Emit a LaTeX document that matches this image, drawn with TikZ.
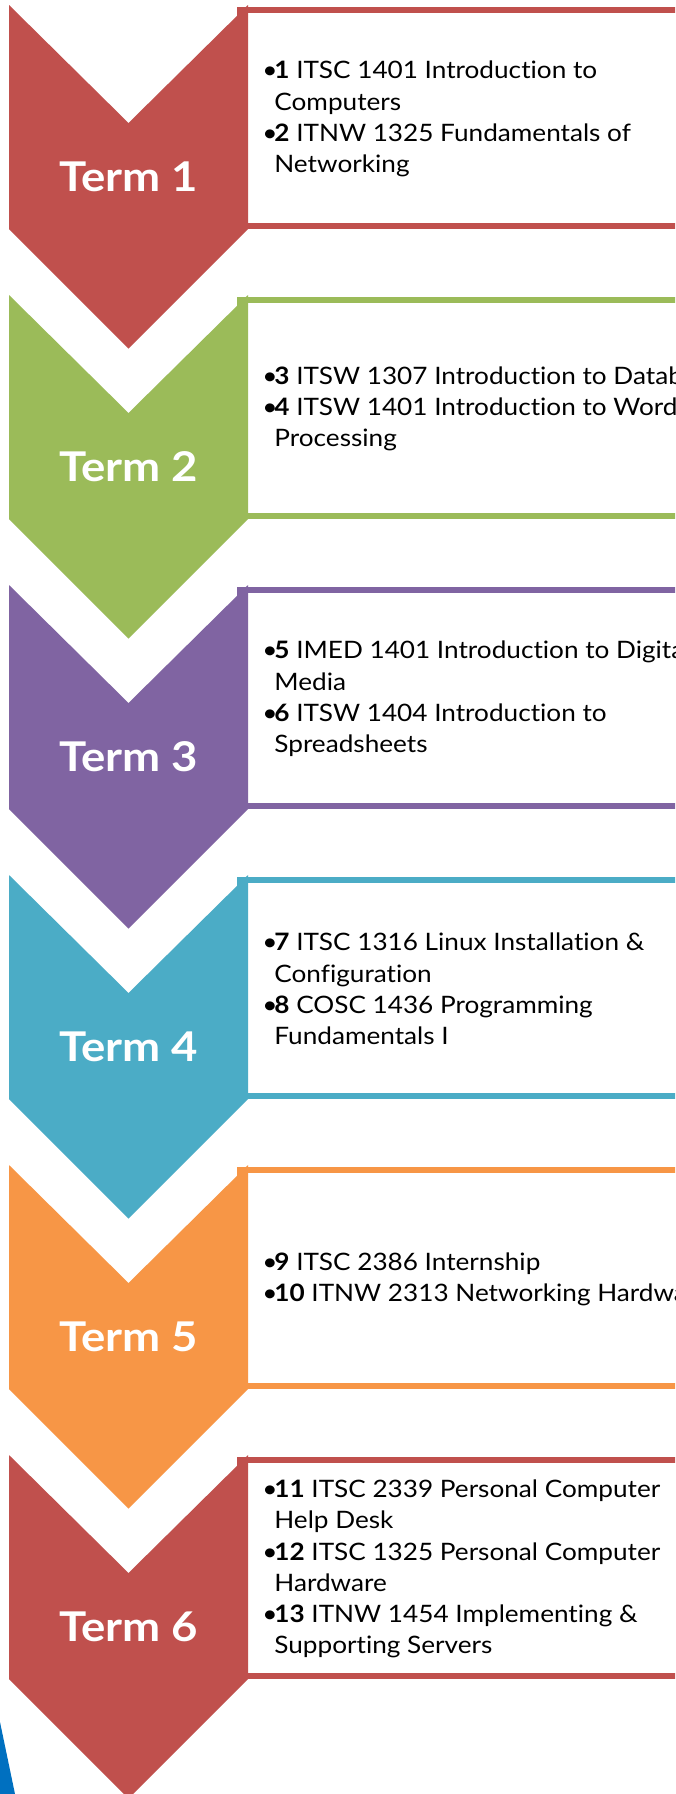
\documentclass[tikz,border=0pt]{standalone}
\usepackage{fontspec}
\setmainfont{Lato}[FakeStretch=1.09,Ligatures=NoCommon]
\newfontfamily\termfont{Lato}[FakeStretch=1.11,Ligatures=NoCommon]
\definecolor{cred}{HTML}{C0504D}
\definecolor{cgreen}{HTML}{9BBB59}
\definecolor{cpurple}{HTML}{8064A2}
\definecolor{cteal}{HTML}{4BACC6}
\definecolor{corange}{HTML}{F79646}
\definecolor{cblue}{HTML}{0070C0}
\newcommand{\bitem}[2]{\makebox[6pt][l]{•}\textbf{#1} #2}
\newcommand{\contline}{\hspace*{6pt}}
% #1 index, #2 top y, #3 colour, #4 label, #5 course text
\newcommand{\termrow}[5]{%
  \draw[boxframe,draw=#3] (240,#2+5) rectangle (700,#2+221);
  \fill[#3] (9,#2) -- (128.5,#2+118) -- (248,#2) -- (248,#2+224)
     -- (128.5,#2+343.5) -- (9,#2+224) -- cycle;
  \node[termlabel] (term#1) at (128.5,#2+186) {#4};
  \node[coursetext] (courses#1) at (262,#2+114) {#5};
}
\begin{document}
\begin{tikzpicture}[x=0.5pt,y=-0.5pt,
  termlabel/.style={text=white,font=\termfont\fontsize{20.5}{24}\selectfont\bfseries,anchor=base,inner sep=0pt},
  coursetext/.style={anchor=west,align=left,font=\fontsize{12}{15.6}\selectfont,inner sep=0pt},
  boxframe/.style={line width=2.75pt,fill=white}]
\clip (0,0) rectangle (675,1794);
\fill[white] (0,0) rectangle (675,1794);
\termrow{1}{5}{cred}{Term 1}{\bitem{1}{ITSC 1401 Introduction to}\\ \contline Computers\\ \bitem{2}{ITNW 1325 Fundamentals of}\\ \contline Networking}
\termrow{2}{295}{cgreen}{Term 2}{\bitem{3}{ITSW 1307 Introduction to Database}\\ \bitem{4}{ITSW 1401 Introduction to Word}\\ \contline Processing}
\termrow{3}{585}{cpurple}{Term 3}{\bitem{5}{IMED 1401 Introduction to Digital}\\ \contline Media\\ \bitem{6}{ITSW 1404 Introduction to}\\ \contline Spreadsheets}
\termrow{4}{875}{cteal}{Term 4}{\bitem{7}{ITSC 1316 Linux Installation \&}\\ \contline Configuration\\ \bitem{8}{COSC 1436 Programming}\\ \contline Fundamentals I}
\termrow{5}{1165}{corange}{Term 5}{\bitem{9}{ITSC 2386 Internship}\\ \bitem{10}{ITNW 2313 Networking Hardware}}
\fill[cblue] (0,1722) -- (15,1794) -- (0,1794) -- cycle;
\termrow{6}{1455}{cred}{Term 6}{\bitem{11}{ITSC 2339 Personal Computer}\\ \contline Help Desk\\ \bitem{12}{ITSC 1325 Personal Computer}\\ \contline Hardware\\ \bitem{13}{ITNW 1454 Implementing \&}\\ \contline Supporting Servers}
\end{tikzpicture}
\end{document}
